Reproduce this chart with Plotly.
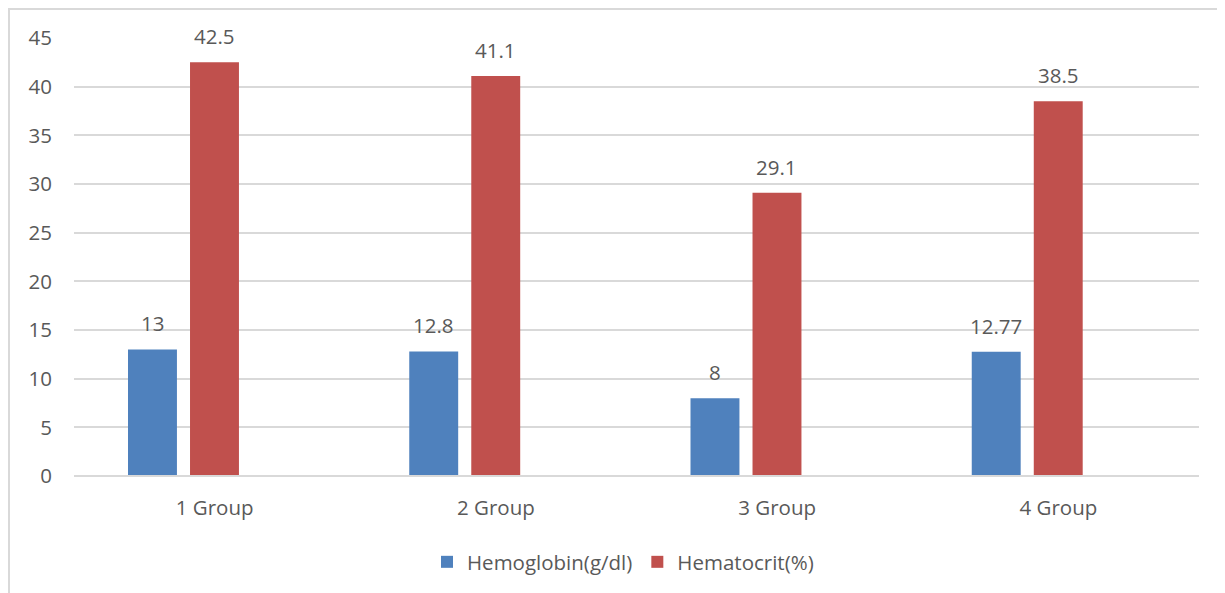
import plotly.graph_objects as go

categories = ["1 Group", "2 Group", "3 Group", "4 Group"]
hemoglobin = [13, 12.8, 8, 12.77]
hematocrit = [42.5, 41.1, 29.1, 38.5]
hemo_labels = ["13", "12.8", "8", "12.77"]
hema_labels = ["42.5", "41.1", "29.1", "38.5"]
y_ticks = [0, 5, 10, 15, 20, 25, 30, 35, 40, 45]

BLUE = "#4f81bd"
RED = "#c0504d"
TXT = "#595959"
GRID = "#d9d9d9"
FONT = "Open Sans"

# page body has an 8px margin; compensate so plot area lands at page x 74..1199, y 38..477
OFF = 8
W, H = 1225 - OFF, 593 - OFF
L, R, T, B = 74 - OFF, 26, 38 - OFF, 116
pw, ph = W - L - R, H - T - B
plot_bottom_page = 477

bw = 0.174
fig = go.Figure()
fig.add_trace(go.Bar(x=categories, y=hemoglobin, name="Hemoglobin(g/dl)",
                     marker=dict(color=BLUE, line=dict(width=0)),
                     width=bw, offset=-0.308, hoverinfo="skip"))
fig.add_trace(go.Bar(x=categories, y=hematocrit, name="Hematocrit(%)",
                     marker=dict(color=RED, line=dict(width=0)),
                     width=bw, offset=-0.0875, hoverinfo="skip"))

ann = []
px_per_cat = pw / 4
for c, v, t in zip(categories, hemoglobin, hemo_labels):
    ann.append(dict(x=c, y=v, text=t, showarrow=False, xref="x", yref="y",
                    xshift=(-0.308 + bw / 2) * px_per_cat, yshift=26,
                    yanchor="middle", font=dict(family=FONT, size=20.5, color=TXT)))
for c, v, t in zip(categories, hematocrit, hema_labels):
    ann.append(dict(x=c, y=v, text=t, showarrow=False, xref="x", yref="y",
                    xshift=(-0.0875 + bw / 2) * px_per_cat, yshift=26,
                    yanchor="middle", font=dict(family=FONT, size=20.5, color=TXT)))

def page_y_to_paper(yp):
    return (plot_bottom_page - yp) / ph

def page_x_to_paper(xp):
    return (xp - 74) / pw

fig.update_layout(
    width=W, height=H,
    margin=dict(l=L, r=R, t=T, b=B),
    paper_bgcolor="white", plot_bgcolor="white",
    barmode="overlay",
    font=dict(family=FONT, size=20, color=TXT),
    annotations=ann,
    showlegend=True,
    legend=dict(orientation="h", x=page_x_to_paper(623), xanchor="center",
                y=page_y_to_paper(562), yanchor="middle",
                font=dict(family=FONT, size=20.5, color=TXT),
                bgcolor="rgba(0,0,0,0)"),
    xaxis=dict(type="category", showgrid=False, showline=False, zeroline=False,
               ticks="", ticklabelstandoff=17, tickfont=dict(family=FONT, size=20.5, color=TXT)),
    yaxis=dict(range=[0, 45], tickvals=y_ticks, showgrid=True, gridcolor=GRID,
               gridwidth=1.5, zeroline=False, showline=False, ticks="",
               ticklabelstandoff=21, tickfont=dict(family=FONT, size=20.5, color=TXT)),
    shapes=[
        dict(type="line", xref="paper", yref="paper", x0=0, x1=1, y0=0, y1=0,
             line=dict(color=GRID, width=2), layer="above"),
        dict(type="rect", xref="paper", yref="paper",
             x0=page_x_to_paper(9), x1=page_x_to_paper(1240),
             y0=page_y_to_paper(610), y1=page_y_to_paper(9),
             line=dict(color=GRID, width=2), fillcolor="rgba(0,0,0,0)", layer="below"),
    ],
)

fig.write_html("out.html")
